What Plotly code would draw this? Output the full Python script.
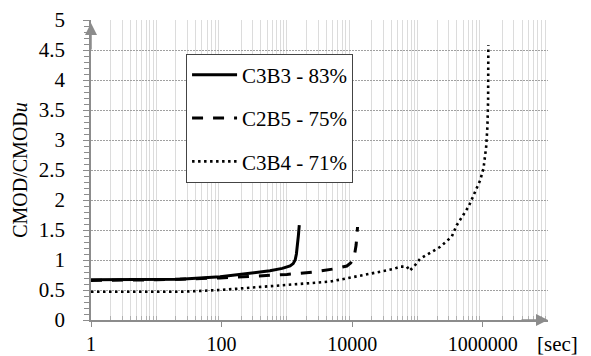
import plotly.graph_objects as go

# ---- data ----
c3b3_t = [1, 5, 23, 95, 250, 550, 850, 1120, 1250, 1340, 1400, 1450, 1500, 1550]
c3b3_y = [0.67, 0.67, 0.68, 0.72, 0.77, 0.82, 0.86, 0.90, 0.94, 1.00, 1.10, 1.22, 1.40, 1.58]

c2b5_t = [1, 10, 95, 243, 1000, 2560, 5150, 8300, 9500, 10200, 11000, 11500, 11800, 12100]
c2b5_y = [0.66, 0.67, 0.70, 0.72, 0.76, 0.80, 0.85, 0.90, 0.95, 1.00, 1.12, 1.25, 1.40, 1.55]

c3b4_t = [1, 23, 95, 790, 4600, 15000, 43000, 55000, 69000, 76000, 90000, 110000, 176000,
          224000, 336000, 400000, 607000, 915000, 1030000, 1130000, 1180000, 1210000, 1220000]
c3b4_y = [0.47, 0.47, 0.50, 0.57, 0.64, 0.75, 0.85, 0.89, 0.89, 0.82, 0.90, 1.02, 1.16,
          1.22, 1.39, 1.58, 1.89, 2.33, 2.53, 2.89, 3.22, 3.67, 4.58]

x_tickvals = [1, 100, 10000, 1000000]
x_ticktext = ["1", "100", "10000", "1000000"]
y_tickvals = [0, 0.5, 1, 1.5, 2, 2.5, 3, 3.5, 4, 4.5, 5]
y_ticktext = ["0", "0.5", "1", "1.5", "2", "2.5", "3", "3.5", "4", "4.5", "5"]

minor_x = [k * 10 ** n for n in range(0, 7) for k in range(1, 10) if k * 10 ** n not in x_tickvals]

FONT = "Liberation Serif, Times New Roman, serif"
AXIS = "#8c8c8c"
FS = 21

fig = go.Figure()
fig.add_trace(go.Scatter(x=c3b3_t, y=c3b3_y, mode="lines", name="C3B3 - 83%",
                         legendgroup="a", line=dict(color="black", width=3)))
fig.add_trace(go.Scatter(x=c2b5_t, y=c2b5_y, mode="lines", name="C2B5 - 75%",
                         legendgroup="b", line=dict(color="black", width=3, dash="11px,10px")))
fig.add_trace(go.Scatter(x=c3b4_t, y=c3b4_y, mode="lines", name="C3B4 - 71%",
                         legendgroup="c", line=dict(color="black", width=2.6, dash="2.5px,3.5px")))

# page body has an 8px margin: shrink figure and shift margins to compensate
fig.update_layout(
    width=583, height=348,
    margin=dict(l=83, r=43, t=12, b=36),
    paper_bgcolor="white", plot_bgcolor="white",
    font=dict(family=FONT, size=FS, color="black"),
    showlegend=True,
    legend=dict(x=0.208, y=0.888, xanchor="left", yanchor="top",
                bgcolor="white", bordercolor="#444", borderwidth=1,
                font=dict(family=FONT, size=FS), tracegroupgap=13,
                itemwidth=45, traceorder="grouped"),
    xaxis=dict(type="log", range=[0, 7], tickvals=x_tickvals, ticktext=x_ticktext,
               automargin=False,
               tickfont=dict(family=FONT, size=20),
               showgrid=False, zeroline=False, showline=True, linecolor=AXIS, linewidth=1.5,
               ticks="outside", ticklen=5, tickcolor=AXIS, tickwidth=1.2,
               ticklabelstandoff=0,
               minor=dict(tickvals=minor_x, showgrid=True, gridcolor="#dcdcdc", gridwidth=1,
                          ticks="inside", ticklen=4, tickcolor="#b0b0b0")),
    yaxis=dict(range=[0, 5], tickvals=y_tickvals, ticktext=y_ticktext,
               automargin=False,
               tickfont=dict(family=FONT, size=FS),
               showgrid=True, gridcolor="#a0a0a0", gridwidth=1, griddash="2px,1px",
               zeroline=False, showline=True, linecolor=AXIS, linewidth=1.5,
               ticks="outside", ticklen=6, tickcolor=AXIS, tickwidth=1.2,
               ticklabelstandoff=14,
               minor=dict(dtick=0.1, ticks="outside", ticklen=5, tickcolor=AXIS, showgrid=False),
               title=dict(text="CMOD/CMOD<i>u</i>", font=dict(family=FONT, size=20), standoff=6)),
)

# axis arrows
fig.add_annotation(xref="paper", yref="paper", x=0, y=0.99, ax=0, ay=28,
                   showarrow=True, arrowhead=2, arrowsize=1.6, arrowwidth=1.5,
                   arrowcolor=AXIS, text="")
fig.add_annotation(xref="paper", yref="paper", x=1.0, y=0, ax=-28, ay=0,
                   showarrow=True, arrowhead=2, arrowsize=1.6, arrowwidth=1.5,
                   arrowcolor=AXIS, text="")
fig.add_annotation(xref="paper", yref="paper", x=1.0, y=0, xanchor="left", yanchor="top",
                   xshift=-13, yshift=-10, showarrow=False, text="[sec]",
                   font=dict(family=FONT, size=FS, color="black"))

fig.write_html("out.html")
